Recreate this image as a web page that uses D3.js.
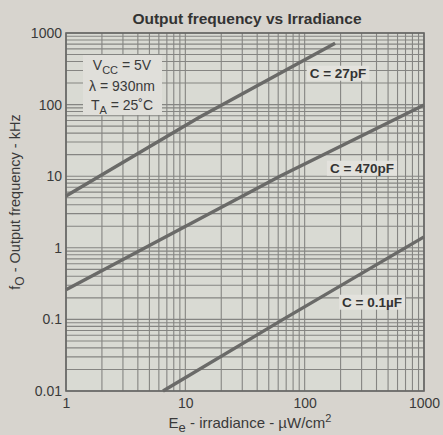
<!DOCTYPE html>
<html>
<head>
<meta charset="utf-8">
<script src="https://cdn.jsdelivr.net/npm/d3@7"></script>
<style>
  html, body { margin: 0; padding: 0; background: #d7d4ce; }
  svg { display: block; font-family: "Liberation Sans", Arial, sans-serif; }
</style>
</head>
<body>
<svg id="chart" width="443" height="435"></svg>
<script>
// Irradiance (µW/cm²) vs output frequency (kHz) for three timing capacitors
const curve27pF  = [[1, 5.3], [13, 66], [180, 720]];
const curve470pF = [[1, 0.26], [62, 10], [1000, 99]];
const curve01uF  = [[6.5, 0.01], [66, 0.1], [1000, 1.42]];

const seriesLabels = ["C = 27pF", "C = 470pF", "C = 0.1\u00B5F"];
const xTicks = [1, 10, 100, 1000];
const yTicks = [0.01, 0.1, 1, 10, 100, 1000];

const margin = { left: 66, right: 19, top: 33, bottom: 44 };
const W = 443, H = 435;
const svg = d3.select("#chart");

const x = d3.scaleLog().domain([1, 1000]).range([margin.left, W - margin.right]);
const y = d3.scaleLog().domain([0.01, 1000]).range([H - margin.bottom, margin.top]);

// plot background
svg.append("rect")
  .attr("x", x(1)).attr("y", y(1000))
  .attr("width", x(1000) - x(1)).attr("height", y(0.01) - y(1000))
  .attr("fill", "#d9dad3");

// grid: every 1..9 within each decade
const xGrid = [];
for (let d = 1; d < 1000; d *= 10) for (let k = 1; k <= 9; k++) xGrid.push(d * k);
xGrid.push(1000);
const yGrid = [];
for (let d = 0.01; d < 999; d *= 10) for (let k = 1; k <= 9; k++) yGrid.push(+(d * k).toPrecision(3));
yGrid.push(1000);

const grid = svg.append("g").attr("stroke", "#858582").attr("stroke-width", 1.1);
grid.selectAll("line.vx").data(xGrid).join("line")
  .attr("x1", d => x(d)).attr("x2", d => x(d))
  .attr("y1", y(1000)).attr("y2", y(0.01));
grid.selectAll("line.hy").data(yGrid).join("line")
  .attr("y1", d => y(d)).attr("y2", d => y(d))
  .attr("x1", x(1)).attr("x2", x(1000));

// frame
svg.append("rect")
  .attr("x", x(1)).attr("y", y(1000))
  .attr("width", x(1000) - x(1)).attr("height", y(0.01) - y(1000))
  .attr("fill", "none").attr("stroke", "#666664").attr("stroke-width", 1.6);

// axes (labels only)
const xAxis = d3.axisBottom(x).tickValues(xTicks).tickFormat(d3.format("d")).tickSize(0).tickPadding(7);
const yAxis = d3.axisLeft(y).tickValues(yTicks).tickFormat(d => d < 1 ? String(d) : d3.format("d")(d)).tickSize(0).tickPadding(4);
const gx = svg.append("g").attr("transform", `translate(0,${y(0.01)})`).call(xAxis);
const gy = svg.append("g").attr("transform", `translate(${x(1)},0)`).call(yAxis);
[gx, gy].forEach(g => {
  g.select(".domain").remove();
  g.selectAll("text").attr("fill", "#3a3a3a").style("font-size", "14px");
});
gx.selectAll("text").attr("dy", "0.72em");

// curves
const line = d3.line().x(d => x(d[0])).y(d => y(d[1]));
const curves = [curve27pF, curve470pF, curve01uF];
svg.append("g").selectAll("path").data(curves).join("path")
  .attr("d", line)
  .attr("fill", "none").attr("stroke", "#6a6a68").attr("stroke-width", 3.4);

// curve labels
const labelPos = [[338, 73], [362, 168], [372, 302]];
const lab = svg.append("g");
seriesLabels.forEach((t, i) => {
  const g = lab.append("g").attr("transform", `translate(${labelPos[i][0]},${labelPos[i][1]})`);
  const txt = g.append("text").text(t)
    .attr("text-anchor", "middle").attr("dy", "0.35em")
    .attr("fill", "#333").style("font-size", "13.5px").style("font-weight", "bold");
  const bb = txt.node().getBBox();
  g.insert("rect", "text")
    .attr("x", bb.x - 3).attr("y", bb.y).attr("width", bb.width + 6).attr("height", bb.height)
    .attr("fill", "#e3e2dd");
});

// operating conditions box
svg.append("rect").attr("x", 83).attr("y", 55).attr("width", 79).attr("height", 60).attr("fill", "#e0dfda");
const cond = svg.append("g").attr("fill", "#3a3a3a").style("font-size", "14px").attr("text-anchor", "middle");
const c0 = cond.append("text").attr("x", 122).attr("y", 70);
c0.append("tspan").text("V");
c0.append("tspan").text("CC").attr("dy", 4).style("font-size", "11px");
c0.append("tspan").text(" = 5V").attr("dy", -4);
cond.append("text").attr("x", 122).attr("y", 91).text("\u03BB = 930nm");
const c2 = cond.append("text").attr("x", 122).attr("y", 110);
c2.append("tspan").text("T");
c2.append("tspan").text("A").attr("dy", 4).style("font-size", "11px");
c2.append("tspan").text(" = 25\u02DAC").attr("dy", -4);

// title
svg.append("text").attr("x", 247).attr("y", 24).attr("text-anchor", "middle")
  .attr("fill", "#333").style("font-size", "15.5px").style("font-weight", "bold")
  .text("Output frequency vs Irradiance");

// x-axis title
const xt = svg.append("text").attr("x", 250).attr("y", 428).attr("text-anchor", "middle")
  .attr("fill", "#3a3a3a").style("font-size", "15px");
xt.append("tspan").text("E");
xt.append("tspan").text("e").attr("dy", 4).style("font-size", "13px");
xt.append("tspan").text(" - irradiance - \u00B5W/cm").attr("dy", -4);
xt.append("tspan").text("2").attr("dy", -6).style("font-size", "11px");

// y-axis title
const yt = svg.append("text").attr("transform", "translate(20,202) rotate(-90)").attr("text-anchor", "middle")
  .attr("fill", "#3a3a3a").style("font-size", "14.5px");
yt.append("tspan").text("f");
yt.append("tspan").text("O").attr("dy", 4).style("font-size", "12px");
yt.append("tspan").text(" - Output frequency - kHz").attr("dy", -4);
</script>
</body>
</html>
